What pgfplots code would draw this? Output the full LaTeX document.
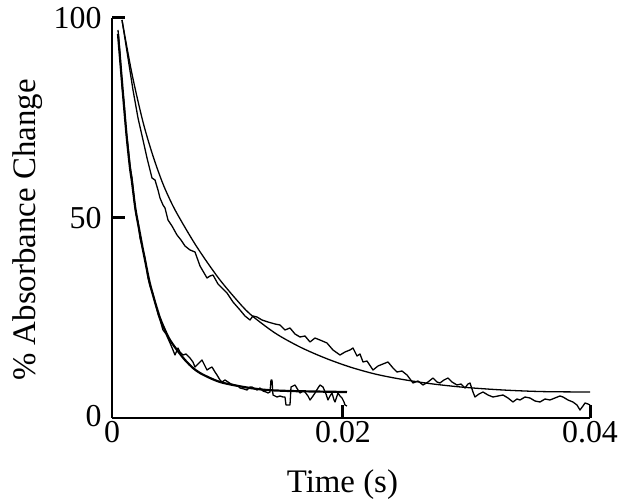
\documentclass[border=0pt]{standalone}
\usepackage{fontspec}
\setmainfont{Liberation Serif}
\usepackage{pgfplots}
\pgfplotsset{compat=1.18}

\begin{document}
\begin{tikzpicture}
\useasboundingbox (0,0) rectangle (619bp,503bp);
\begin{axis}[
  at={(112bp,85bp)}, anchor=south west,
  scale only axis, width=478bp, height=400bp,
  xmin=0, xmax=0.04, ymin=0, ymax=100,
  axis lines*=left,
  axis line style={line width=2.6bp},
  scaled x ticks=false,
  xtick={0,0.01933,0.04}, xticklabels={0,0.02,0.04},
  ytick={0,50,100}, yticklabels={\raisebox{5bp}{0},50,100},
  major tick length=0pt,
  tick label style={font=\fontsize{32}{38}\selectfont},
  yticklabel style={xshift=-7bp},
  xlabel={Time (s)}, ylabel={\% Absorbance Change},
  label style={font=\fontsize{33}{39}\selectfont},
  xlabel style={at={(axis description cs:0.482,-0.1675)}, anchor=center},
  ylabel style={at={(axis description cs:-0.1757,0.47)}, anchor=center},
  clip=false,
]
% slow fit
\addplot[black, line width=1.3bp, line join=round, smooth] table {
t y
0.000837 99.5
0.001674 86
0.002594 74
0.003431 65.5
0.004268 58.5
0.005104 53
0.005941 48.5
0.006945 43.5
0.007950 39
0.009037 34.5
0.010293 30
0.011548 26
0.013640 21.25
0.015732 17.75
0.017824 15
0.019916 12.75
0.022008 11
0.024100 9.75
0.026610 8.6
0.029372 7.7
0.032719 7
0.036066 6.6
0.040000 6.5
};
% slow data
\addplot[black, line width=1.3bp, line join=round] table {
t y
0.000837 99.5
0.001339 90
0.001757 82
0.002176 75
0.002594 69.5
0.002929 65
0.003180 62
0.003347 60
0.003598 59.5
0.003849 57
0.004017 55
0.004268 53.25
0.004435 52.5
0.004686 49.5
0.005021 48
0.005439 45.75
0.005774 44.5
0.006109 43
0.006527 42
0.006945 41.5
0.007364 38
0.007950 35
0.008201 35.5
0.008452 35.75
0.008870 33.5
0.009623 31.25
0.010125 29
0.010711 27
0.011129 25.5
0.011548 24.5
0.011799 25.5
0.012134 25.25
0.012552 24.5
0.013054 24
0.013640 23.5
0.014058 23.25
0.014477 22
0.014895 22.5
0.015313 21
0.015732 20.25
0.016150 20.5
0.016569 19
0.016987 20
0.017405 19.5
0.017991 18.75
0.018493 17
0.019079 15.75
0.019497 16.5
0.019916 17
0.020167 17.5
0.020502 15.5
0.020753 16
0.021004 14
0.021338 14.25
0.021840 12
0.022259 13
0.022677 13.5
0.023096 14
0.023514 12.5
0.023849 11.5
0.024267 11.75
0.024686 10.75
0.025188 8.75
0.025606 9.25
0.026024 8.25
0.026443 9
0.026861 10
0.027196 9
0.027447 8.75
0.027782 9.5
0.028116 10
0.028451 9
0.028870 8.25
0.029204 8.5
0.029539 7.5
0.029790 8.5
0.029957 8.75
0.030208 6.5
0.030376 5.25
0.030711 6
0.031045 6.5
0.031464 5.75
0.031882 5.25
0.032300 5.5
0.032719 5.75
0.033137 5
0.033556 4
0.033890 4.75
0.034141 4.5
0.034560 5.25
0.034978 5
0.035397 4.25
0.035815 4
0.036233 4.75
0.036652 4.5
0.037070 5
0.037489 5.5
0.037740 5.25
0.038158 4.5
0.038577 4
0.038911 3.25
0.039162 2
0.039413 3
0.039581 3.75
0.039832 3.5
0.040000 3.25
};
% fast fit
\addplot[black, line width=2.2bp, line join=round, smooth] table {
t y
0.000502 96
0.000669 90
0.000837 84
0.001004 78
0.001255 69.5
0.001506 62.5
0.001674 59
0.001925 53
0.002092 50
0.002343 46
0.002594 42
0.002929 37
0.003180 33.5
0.003598 29
0.004017 25
0.004435 22
0.004853 19.5
0.005439 17
0.006109 14.5
0.006778 12.5
0.007364 11.25
0.008201 10
0.009037 9
0.010125 8.25
0.011548 7.5
0.012970 7
0.014895 6.75
0.017405 6.6
0.019665 6.5
};
% fast data
\addplot[black, line width=1.3bp, line join=round] table {
t y
0.000502 97
0.000669 91
0.000837 83
0.001004 79
0.001172 72
0.001339 68
0.001506 63
0.001674 60
0.001841 55
0.002008 51
0.002176 49
0.002343 45
0.002510 43
0.002761 40
0.003012 35
0.003180 33
0.003431 31
0.003682 28
0.003849 26
0.004017 24.5
0.004268 22
0.004519 21
0.004853 18.75
0.005104 17
0.005272 15.75
0.005523 17.5
0.005690 16.5
0.005941 15.75
0.006192 16
0.006527 15
0.006778 14
0.006945 12.75
0.007196 13.5
0.007531 14.5
0.007782 13
0.007950 12
0.008201 12.5
0.008368 12.75
0.008619 11.5
0.008786 10.75
0.009037 9.5
0.009205 9
0.009456 9.5
0.009707 9
0.009958 8.5
0.010293 8.25
0.010544 8
0.010711 7.5
0.011046 7.25
0.011297 7
0.011548 7.75
0.011715 7.75
0.011966 7.25
0.012134 7
0.012385 7.5
0.012636 6.75
0.012887 6.5
0.013054 6.25
0.013221 6.5
0.013305 9.5
0.013389 9.5
0.013472 5.75
0.013807 5.25
0.014058 5.5
0.014309 5.25
0.014477 5.25
0.014560 3.25
0.014895 3.25
0.014979 7.75
0.015313 8.25
0.015564 7
0.015732 6.25
0.015983 6.75
0.016150 6.5
0.016401 5.5
0.016569 4.5
0.016820 5.5
0.016987 6.25
0.017238 7.5
0.017405 8.25
0.017656 7.75
0.017908 6
0.018075 4.5
0.018242 5.5
0.018410 6.25
0.018577 4.5
0.018661 4
0.018828 5.5
0.018912 6.25
0.019079 5.5
0.019246 5
0.019414 4
0.019497 3.25
0.019665 3
};
% inward tick marks
\draw[line width=3bp] (axis cs:0,50) -- (axis cs:0.00105,50);
\draw[line width=3bp] (axis cs:0,100) -- (axis cs:0.00105,100);
\draw[line width=3bp] (axis cs:0.01933,0) -- (axis cs:0.01933,3.2);
\draw[line width=3bp] (axis cs:0.04,0) -- (axis cs:0.04,3.2);
\end{axis}
\end{tikzpicture}
\end{document}
